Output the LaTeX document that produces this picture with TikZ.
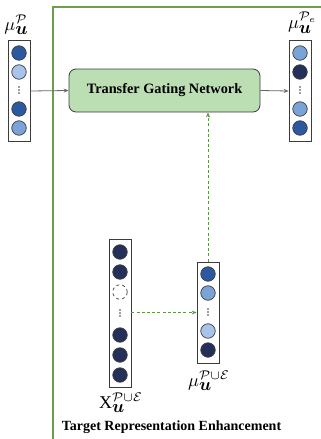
\documentclass[tikz,border=0pt]{standalone}
\usepackage{fontspec}
\setmainfont{Liberation Serif}
\usepackage{amsmath,amssymb}
\usetikzlibrary{arrows.meta,positioning}
\definecolor{navy}{RGB}{36,48,90}
\definecolor{midblue}{RGB}{43,88,158}
\definecolor{ltblue}{RGB}{124,163,216}
\definecolor{paleblue}{RGB}{168,196,234}
\definecolor{gatefill}{RGB}{187,222,178}
\definecolor{framegreen}{RGB}{108,158,78}
\definecolor{dashgreen}{RGB}{92,150,70}
\definecolor{edgegray}{RGB}{60,60,60}
\tikzset{
  vecbox/.style={draw=edgegray, line width=0.8pt, fill=white, minimum width=22pt, inner sep=0pt},
  cell/.style={circle, draw=edgegray, line width=0.7pt, minimum size=14.5pt, inner sep=0pt},
  emptycell/.style={circle, draw=edgegray, dashed, line width=0.7pt, minimum size=14.5pt, inner sep=0pt},
  gate/.style={draw=edgegray, line width=0.8pt, fill=gatefill, rounded corners=7pt, minimum width=191pt, minimum height=43pt, font=\bfseries\fontsize{14.3}{16}\selectfont},
  solidarrow/.style={draw=gray!80!black, line width=0.8pt, -{Stealth[length=5pt,width=4pt]}},
  dasharrow/.style={draw=dashgreen, line width=0.7pt, dash pattern=on 3pt off 2.2pt, -{Stealth[length=5pt,width=4pt]}},
  veclabel/.style={inner sep=0pt},
  dotnode/.style={circle, fill=edgegray, inner sep=0pt, minimum size=1.6pt}
}
\newcommand{\vdotsat}[2]{%
  \node[dotnode] at (#1,#2-3) {};
  \node[dotnode] at (#1,#2) {};
  \node[dotnode] at (#1,#2+3) {};
}
\newcommand{\biglab}[2]{\scalebox{1.8}{$#1_{\mbox{$\boldsymbol{u}$}}^{#2}$}}
\begin{document}
\begin{tikzpicture}[x=1pt,y=-1pt]
\useasboundingbox (0,0) rectangle (321,439);
% green frame
\draw[framegreen, line width=1.2pt] (53,445) -- (53,7) -- (330,7);

% left vector
\node[vecbox, minimum height=101pt] (lbox) at (19,91) {};
\node[cell, fill=midblue] (l1) at (19,53) {};
\node[cell, fill=paleblue] (l2) at (19,72) {};
\vdotsat{19}{90}
\node[cell, fill=midblue] (l4) at (19,109) {};
\node[cell, fill=ltblue] (l5) at (19,128) {};
\node[veclabel] (llab) at (16.5,25) {\biglab{\mu}{\mathcal{P}}};

% right vector
\node[vecbox, minimum height=101pt] (rbox) at (300,91) {};
\node[cell, fill=ltblue] (r1) at (300,53) {};
\node[cell, fill=navy] (r2) at (300,72) {};
\vdotsat{300}{90}
\node[cell, fill=ltblue] (r4) at (300,109) {};
\node[cell, fill=midblue] (r5) at (300,128) {};
\node[veclabel] (rlab) at (302.5,23) {\biglab{\mu}{\mathcal{P}_e}};

% gating network
\node[gate] (gate) at (164.5,90.5) {Transfer Gating Network};

% X vector
\node[vecbox, minimum height=148pt] (xbox) at (120,313) {};
\node[cell, fill=navy] (x1) at (120,252) {};
\node[cell, fill=navy] (x2) at (120,272) {};
\node[emptycell] (x3) at (120,292) {};
\vdotsat{120}{313}
\node[cell, fill=navy] (x5) at (120,335) {};
\node[cell, fill=navy] (x6) at (120,355) {};
\node[cell, fill=navy] (x7) at (120,375) {};
\node[veclabel] (xlab) at (121,403) {\biglab{\mathrm{X}}{\mathcal{P}\cup\mathcal{E}}};

% mu union vector
\node[vecbox, minimum height=101pt] (mbox) at (208,312.5) {};
\node[cell, fill=midblue] (m1) at (208,274) {};
\node[cell, fill=ltblue] (m2) at (208,293) {};
\vdotsat{208}{312}
\node[cell, fill=paleblue] (m4) at (208,331) {};
\node[cell, fill=navy] (m5) at (208,350) {};
\node[veclabel] (mlab) at (209,381) {\biglab{\mu}{\mathcal{P}\cup\mathcal{E}}};

% title
\node[font=\bfseries\fontsize{14}{16}\selectfont, inner sep=0pt] (title) at (171.5,427) {Target Representation Enhancement};

% connectors
\draw[solidarrow] (lbox.east) -- (gate.west);
\draw[solidarrow] (gate.east) -- (rbox.west);
\draw[dasharrow] (xbox.east |- mbox.west) -- (mbox.west);
\draw[dasharrow] (mbox.north) -- (mbox.north |- gate.south);
\end{tikzpicture}
\end{document}
